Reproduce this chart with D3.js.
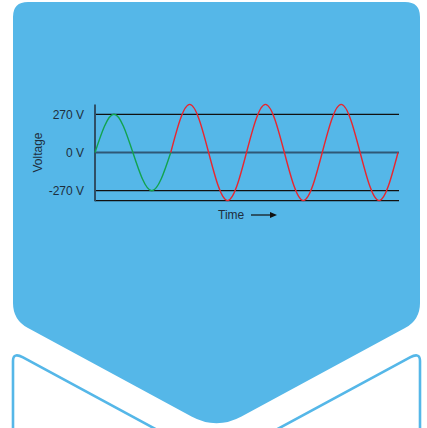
<!DOCTYPE html>
<html>
<head>
<meta charset="utf-8">
<script src="https://cdn.jsdelivr.net/npm/d3@7"></script>
<style>
html,body{margin:0;padding:0;background:#fff;}
svg{display:block;}
text{font-family:"Liberation Sans",Arial,sans-serif;}
</style>
</head>
<body>
<svg id="chart" width="427" height="428"></svg>
<script>
// ---- data ----
const tickValues = [270, 0, -270];
const tickLabels = ["270 V", "0 V", "-270 V"];
const greenTime = [0, 0.25, 0.5, 0.75, 1];
const greenVolt = [0, 270, 0, -270, 0];
const redTime = [1, 1.25, 1.5, 1.75, 2, 2.25, 2.5, 2.75, 3, 3.25, 3.5, 3.75, 4];
const redVolt = [0, 340, 0, -340, 0, 340, 0, -340, 0, 340, 0, -340, 0];
const yLabel = "Voltage";
const xLabel = "Time";

(function () {
const svg = d3.select("#chart");
const BLUE = "#55b7e8";
const TEXT = "#1e2e3c";

// ---- background shapes ----
const L = 13, R = 420, topY = 2, rTop = 15;
const cx = (L + R) / 2;
const cornerY = 320, tipY = 430;
const slope = (tipY - cornerY) / (cx - L);
let p = d3.path();
p.moveTo(L + rTop, topY);
p.lineTo(R - rTop, topY);
p.quadraticCurveTo(R, topY, R, topY + rTop);
p.lineTo(R, cornerY - 17);
p.quadraticCurveTo(R, cornerY, R - 15, cornerY + 15 * slope);
p.lineTo(cx + 25, tipY - 25 * slope);
p.quadraticCurveTo(cx, tipY, cx - 25, tipY - 25 * slope);
p.lineTo(L + 15, cornerY + 15 * slope);
p.quadraticCurveTo(L, cornerY, L, cornerY - 17);
p.lineTo(L, topY + rTop);
p.quadraticCurveTo(L, topY, L + rTop, topY);
p.closePath();
svg.append("path").attr("d", p.toString()).attr("fill", BLUE);

// outline chevron below
const oTop = 352;
let q = d3.path();
q.moveTo(L, 440);
q.lineTo(L, oTop + 9);
q.quadraticCurveTo(L, oTop, L + 10, oTop + 10 * slope);
q.lineTo(cx, oTop + (cx - L) * slope);
q.lineTo(R - 10, oTop + 10 * slope);
q.quadraticCurveTo(R, oTop, R, oTop + 9);
q.lineTo(R, 440);
svg.append("path").attr("d", q.toString())
  .attr("fill", "#fff").attr("stroke", BLUE).attr("stroke-width", 2.6);

// ---- chart ----
const x = d3.scaleLinear().domain([0, 4]).range([95, 398]);
const y = d3.scaleLinear().domain([-340, 340]).range([200.6, 104.4]);

const g = svg.append("g");

g.selectAll("line.grid").data(tickValues).join("line")
  .attr("class", "grid")
  .attr("x1", x(0)).attr("x2", x(4) + 1)
  .attr("y1", d => y(d)).attr("y2", d => y(d))
  .attr("stroke", d => d === 0 ? "#2f5876" : "#111")
  .attr("stroke-width", d => d === 0 ? 1.8 : 1.3);

g.append("line")
  .attr("x1", x(0)).attr("x2", x(4) + 1)
  .attr("y1", y(-340)).attr("y2", y(-340))
  .attr("stroke", "#111").attr("stroke-width", 1.3);

g.append("line")
  .attr("x1", x(0)).attr("x2", x(0))
  .attr("y1", y(340)).attr("y2", y(-340) + 0.7)
  .attr("stroke", "#2f4f66").attr("stroke-width", 2);

g.selectAll("text.tick").data(tickValues).join("text")
  .attr("class", "tick")
  .attr("x", x(0) - 11)
  .attr("y", d => y(d))
  .attr("dy", "0.35em")
  .attr("text-anchor", "end")
  .attr("font-size", 12)
  .attr("fill", TEXT)
  .text((d, i) => tickLabels[i]);

g.append("text")
  .attr("transform", `translate(42,${y(0)}) rotate(-90)`)
  .attr("text-anchor", "middle")
  .attr("font-size", 12)
  .attr("fill", TEXT)
  .text(yLabel);

g.append("text")
  .attr("x", 218).attr("y", 219)
  .attr("font-size", 12)
  .attr("fill", TEXT)
  .text(xLabel);
g.append("line")
  .attr("x1", 251).attr("x2", 272)
  .attr("y1", 215).attr("y2", 215)
  .attr("stroke", "#111").attr("stroke-width", 1.2);
g.append("path")
  .attr("d", "M270,212 L277,215 L270,218 Z")
  .attr("fill", "#111");

const line = d3.line().x(d => x(d[0])).y(d => y(d[1])).curve(d3.curveNatural);
g.append("path")
  .attr("d", line(d3.zip(greenTime, greenVolt)))
  .attr("fill", "none").attr("stroke", "#12a34f").attr("stroke-width", 1.4);
g.append("path")
  .attr("d", line(d3.zip(redTime, redVolt)))
  .attr("fill", "none").attr("stroke", "#e8262f").attr("stroke-width", 1.4);
})();
</script>
</body>
</html>
